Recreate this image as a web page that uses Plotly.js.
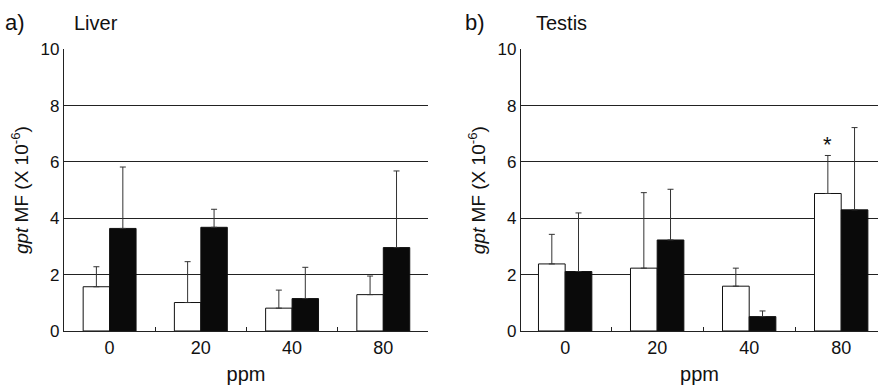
<!DOCTYPE html>
<html>
<head>
<meta charset="utf-8">
<script src="https://cdn.plot.ly/plotly-3.0.1.min.js"></script>
<style>
  html, body { margin: 0; padding: 0; background: #fff; }
  #chart { width: 878px; height: 388px; }
</style>
</head>
<body>
<div id="chart"></div>
<script>
// Categories (dose, ppm)
const doses = ["0", "20", "40", "80"];
const yTickVals = [0, 2, 4, 6, 8, 10];

// a) Liver — gpt MF (x 10^-6), mean and SD (upper error bar)
const liverOpen = [1.57, 1.01, 0.81, 1.29];
const liverOpenSD = [0.71, 1.45, 0.64, 0.66];
const liverFilled = [3.64, 3.68, 1.15, 2.96];
const liverFilledSD = [2.18, 0.64, 1.11, 2.72];

// b) Testis
const testisOpen = [2.38, 2.23, 1.59, 4.88];
const testisOpenSD = [1.05, 2.68, 0.64, 1.35];
const testisFilled = [2.11, 3.23, 0.51, 4.30];
const testisFilledSD = [2.08, 1.80, 0.20, 2.92];

// Significance marker
const starCategoryIndex = 3;   // "80" group, open bar
const starValue = 6.62;

const zeros = doses.map(() => 0);
const FONT = "Liberation Sans, Arial, Helvetica, sans-serif";

function barTrace(y, sd, fill, xa, ya) {
  return {
    type: "bar",
    x: doses,
    y: y,
    xaxis: xa,
    yaxis: ya,
    marker: { color: fill, line: { color: "#111", width: 1 } },
    error_y: {
      type: "data", symmetric: false, array: sd, arrayminus: zeros,
      color: "#333", thickness: 1, width: 3
    },
    showlegend: false,
    hoverinfo: "skip"
  };
}

const data = [
  barTrace(liverOpen, liverOpenSD, "#ffffff", "x", "y"),
  barTrace(liverFilled, liverFilledSD, "#0a0a0a", "x", "y"),
  barTrace(testisOpen, testisOpenSD, "#ffffff", "x2", "y2"),
  barTrace(testisFilled, testisFilledSD, "#0a0a0a", "x2", "y2")
];

function xAxis(domain, range, anchor) {
  return {
    domain: domain,
    anchor: anchor,
    type: "category",
    range: range,
    showline: true, linecolor: "#222", linewidth: 1.2,
    showgrid: false, zeroline: false,
    ticks: "inside", tickson: "boundaries", ticklen: 4, tickcolor: "#222",
    tickfont: { family: FONT, size: 18, color: "#111" },
    title: { text: "ppm", font: { family: FONT, size: 20, color: "#111" }, standoff: 10 },
    fixedrange: true
  };
}
function yAxis(domain, anchor) {
  return {
    domain: domain,
    anchor: anchor,
    range: [0, 10],
    tickvals: yTickVals,
    ticktext: yTickVals.map(String),
    showline: true, linecolor: "#222", linewidth: 1.2,
    showgrid: true, gridcolor: "#222", gridwidth: 1,
    zeroline: false,
    ticks: "inside", ticklen: 3, tickcolor: "#222",
    tickfont: { family: FONT, size: 17, color: "#111" },
    title: {
      text: "<i>gpt</i> MF (X 10<sup>-6</sup>)",
      font: { family: FONT, size: 19, color: "#111" },
      standoff: 6
    },
    fixedrange: true
  };
}

const yDom = [0.147, 0.873];

const layout = {
  width: 878,
  height: 388,
  margin: { l: 0, r: 0, t: 0, b: 0 },
  paper_bgcolor: "#ffffff",
  plot_bgcolor: "#ffffff",
  barmode: "group",
  bargap: 0.42,
  bargroupgap: 0,
  font: { family: FONT, color: "#111" },
  xaxis: xAxis([64 / 878, 428 / 878], [-0.5, 3.49], "y"),
  yaxis: yAxis(yDom, "x"),
  xaxis2: xAxis([521 / 878, 1], [-0.48, 3.40], "y2"),
  yaxis2: yAxis(yDom, "x2"),
  annotations: [
    { text: "a)", xref: "paper", yref: "paper", x: 3 / 878, y: 1 - 22 / 388,
      xanchor: "left", yanchor: "middle", showarrow: false,
      font: { family: FONT, size: 22, color: "#111" } },
    { text: "Liver", xref: "paper", yref: "paper", x: 72 / 878, y: 1 - 23 / 388,
      xanchor: "left", yanchor: "middle", showarrow: false,
      font: { family: FONT, size: 20, color: "#111" } },
    { text: "b)", xref: "paper", yref: "paper", x: 463 / 878, y: 1 - 22 / 388,
      xanchor: "left", yanchor: "middle", showarrow: false,
      font: { family: FONT, size: 22, color: "#111" } },
    { text: "Testis", xref: "paper", yref: "paper", x: 534 / 878, y: 1 - 23 / 388,
      xanchor: "left", yanchor: "middle", showarrow: false,
      font: { family: FONT, size: 20, color: "#111" } },
    { text: "*", xref: "x2", yref: "y2", x: starCategoryIndex - 0.145, y: starValue,
      xanchor: "center", yanchor: "middle", showarrow: false,
      font: { family: FONT, size: 22, color: "#111" } }
  ]
};

Plotly.newPlot("chart", data, layout, { displayModeBar: false, staticPlot: true });
</script>
</body>
</html>
